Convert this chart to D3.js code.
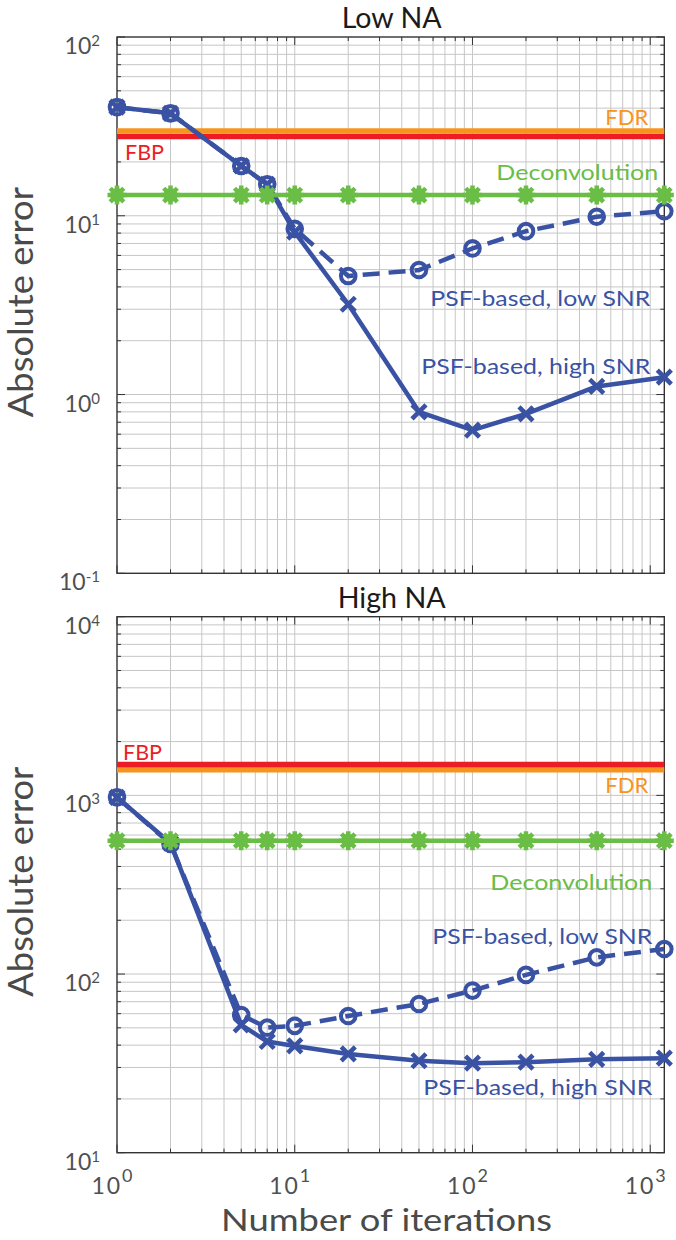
<!DOCTYPE html>
<html>
<head>
<meta charset="utf-8">
<script src="https://cdn.jsdelivr.net/npm/d3@7"></script>
<style>
  body { margin: 0; background: #fff; }
  svg { display: block; }
  text { font-family: Lato, "Open Sans", sans-serif; }
</style>
</head>
<body>
<svg id="chart" width="676" height="1240"></svg>
<script>
// Iteration counts shared by every series
const iterations = [1, 2, 5, 7, 10, 20, 50, 100, 200, 500, 1200];

// Low NA panel
const lowNA_psfLowSNR  = [40.5, 37.4, 19.0, 15.0, 8.45, 4.6, 4.97, 6.57, 8.2, 9.87, 10.6];
const lowNA_psfHighSNR = [40.5, 37.4, 19.0, 15.0, 8.1, 3.2, 0.80, 0.632, 0.78, 1.11, 1.25];
const lowNA_deconv     = [13.06, 13.06, 13.06, 13.06, 13.06, 13.06, 13.06, 13.06, 13.06, 13.06, 13.06];
const lowNA_FBP = 27.8;
const lowNA_FDR = 29.8;

// High NA panel
const highNA_psfLowSNR  = [975, 535, 59, 50.1, 51.3, 58.2, 68, 80.8, 98.9, 124, 138];
const highNA_psfHighSNR = [975, 540, 51.9, 41.9, 39.6, 35.7, 32.7, 31.7, 32.1, 33.3, 33.8];
const highNA_deconv     = [558, 558, 558, 558, 558, 558, 558, 558, 558, 558, 558];
const highNA_FBP = 1490;
const highNA_FDR = 1390;

// Axis ranges and labels
const xDomain = [1, 1200];
const lowNA_yDomain = [0.1, 100];
const highNA_yDomain = [10, 10000];
const titles = ["Low NA", "High NA"];
const xAxisLabel = "Number of iterations";
const yAxisLabel = "Absolute error";
const seriesNames = ["FBP", "FDR", "Deconvolution", "PSF-based, low SNR", "PSF-based, high SNR"];

const C = {
  blue: "#3a52a3",
  green: "#6abd45",
  red: "#ed1c24",
  orange: "#f7941d",
  grid: "#c6c6c6",
  axis: "#333333",
  tickText: "#505050",
  label: "#4a4a4a"
};

// rendered widths of the longer labels (the typeface is set a little wide)
const textWidth = {
  "FBP": 39, "FDR": 43, "Deconvolution": 162,
  "PSF-based, low SNR": 220, "PSF-based, high SNR": 229,
  "Low NA": 100, "High NA": 108,
  "Number of iterations": 331, "Absolute error": 230
};

const svg = d3.select("#chart");
const left = 117, right = 664.3;

const panels = [
  {
    top: 37, bottom: 573.3, yDomain: lowNA_yDomain, title: titles[0],
    low: lowNA_psfLowSNR, high: lowNA_psfHighSNR, deconv: lowNA_deconv,
    fbp: lowNA_FBP, fdr: lowNA_FDR, fdrOnTop: true,
    lab: {
      fbp: { dx: 8, dy: 24 },
      fdr: { dx: -16, dy: -6 },
      dec: { dx: -6, dy: -15 },
      lowY: 306, highY: 374, lowDx: -14, highDx: -14
    }
  },
  {
    top: 616.7, bottom: 1152.7, yDomain: highNA_yDomain, title: titles[1],
    low: highNA_psfLowSNR, high: highNA_psfHighSNR, deconv: highNA_deconv,
    fbp: highNA_FBP, fdr: highNA_FDR, fdrOnTop: false,
    lab: {
      fbp: { dx: 6, dy: -4.5 },
      fdr: { dx: -16, dy: 23 },
      dec: { dx: -12, dy: 49 },
      lowY: 944, highY: 1095, lowDx: -12, highDx: -12
    }
  }
];

function logTicks(domain) {
  const out = [];
  const k0 = Math.floor(Math.log10(domain[0]));
  const k1 = Math.ceil(Math.log10(domain[1]));
  for (let k = k0; k <= k1; k++) {
    for (let m = 1; m <= 9; m++) {
      const v = m * Math.pow(10, k);
      if (v >= domain[0] * 0.9999 && v <= domain[1] * 1.0001) out.push({ v, major: m === 1 });
    }
  }
  return out;
}

function fitText(sel, str) {
  if (textWidth[str]) sel.attr("textLength", textWidth[str]).attr("lengthAdjust", "spacingAndGlyphs");
  return sel;
}

const xTicks = logTicks(xDomain);

panels.forEach((p, pi) => {
  const x = d3.scaleLog().domain(xDomain).range([left, right]);
  const y = d3.scaleLog().domain(p.yDomain).range([p.bottom, p.top]);
  const yTicks = logTicks(p.yDomain);
  const g = svg.append("g");

  // grid
  g.append("g").selectAll("line").data(xTicks.filter(t => x(t.v) > left + 0.5 && x(t.v) < right - 0.5))
    .join("line")
    .attr("x1", d => x(d.v)).attr("x2", d => x(d.v))
    .attr("y1", p.top).attr("y2", p.bottom)
    .attr("stroke", C.grid).attr("stroke-width", 1);
  g.append("g").selectAll("line").data(yTicks.filter(t => y(t.v) > p.top + 0.5 && y(t.v) < p.bottom - 0.5))
    .join("line")
    .attr("y1", d => y(d.v)).attr("y2", d => y(d.v))
    .attr("x1", left).attr("x2", right)
    .attr("stroke", C.grid).attr("stroke-width", 1);

  // inward tick marks on all four sides
  const tk = g.append("g").attr("stroke", C.axis).attr("stroke-width", 1);
  yTicks.forEach(t => {
    const L = t.major ? 8 : 4;
    tk.append("line").attr("x1", left).attr("x2", left + L).attr("y1", y(t.v)).attr("y2", y(t.v));
    tk.append("line").attr("x1", right).attr("x2", right - L).attr("y1", y(t.v)).attr("y2", y(t.v));
  });
  xTicks.forEach(t => {
    const L = t.major ? 8 : 4;
    tk.append("line").attr("y1", p.bottom).attr("y2", p.bottom - L).attr("x1", x(t.v)).attr("x2", x(t.v));
    tk.append("line").attr("y1", p.top).attr("y2", p.top + L).attr("x1", x(t.v)).attr("x2", x(t.v));
  });

  // frame
  g.append("rect").attr("x", left).attr("y", p.top)
    .attr("width", right - left).attr("height", p.bottom - p.top)
    .attr("fill", "none").attr("stroke", C.axis).attr("stroke-width", 1.4);

  // y tick labels
  yTicks.filter(t => t.major).forEach(t => {
    const e = Math.round(Math.log10(t.v));
    const txt = g.append("text")
      .attr("x", 100).attr("y", y(t.v) + 17)
      .attr("text-anchor", "end")
      .attr("font-size", 23).attr("fill", C.tickText)
      .text("10");
    txt.append("tspan").attr("dy", -8).attr("font-size", 15).text(e);
  });

  // reference lines FBP / FDR
  const hline = (val, color) => g.append("line")
    .attr("x1", x(xDomain[0])).attr("x2", x(xDomain[1]))
    .attr("y1", y(val)).attr("y2", y(val))
    .attr("stroke", color).attr("stroke-width", 5.5);
  if (p.fdrOnTop) { hline(p.fbp, C.red); hline(p.fdr, C.orange); }
  else { hline(p.fdr, C.orange); hline(p.fbp, C.red); }

  const line = d3.line().x((d, i) => x(iterations[i])).y(d => y(d));

  // PSF-based, high SNR (solid, crosses)
  g.append("path").datum(p.high).attr("d", line)
    .attr("fill", "none").attr("stroke", C.blue).attr("stroke-width", 4.5)
    .attr("stroke-linejoin", "round");
  // PSF-based, low SNR (dashed, circles)
  g.append("path").datum(p.low).attr("d", line)
    .attr("fill", "none").attr("stroke", C.blue).attr("stroke-width", 4.5)
    .attr("stroke-dasharray", "17,9");

  g.append("g").selectAll("path").data(p.high).join("path")
    .attr("transform", (d, i) => `translate(${x(iterations[i])},${y(d)})`)
    .attr("d", "M-7,-7L7,7M-7,7L7,-7")
    .attr("stroke", C.blue).attr("stroke-width", 4.5).attr("fill", "none");
  g.append("g").selectAll("circle").data(p.low).join("circle")
    .attr("cx", (d, i) => x(iterations[i])).attr("cy", d => y(d))
    .attr("r", 7.3).attr("fill", "none")
    .attr("stroke", C.blue).attr("stroke-width", 4);

  // Deconvolution (solid, asterisks)
  g.append("path").datum(p.deconv).attr("d", line)
    .attr("fill", "none").attr("stroke", C.green).attr("stroke-width", 4.5);
  const star = g.append("g").selectAll("g").data(p.deconv).join("g")
    .attr("transform", (d, i) => `translate(${x(iterations[i])},${y(d)})`);
  star.append("circle").attr("r", 7).attr("fill", C.green);
  star.append("path")
    .attr("d", "M-9.5,0H9.5M0,-9.5V9.5M-6.8,-6.8L6.8,6.8M-6.8,6.8L6.8,-6.8")
    .attr("stroke", C.green).attr("stroke-width", 4.5);

  // series annotations
  const ann = (txt, color, xx, yy, anchor) => fitText(g.append("text")
    .attr("x", xx).attr("y", yy).attr("text-anchor", anchor)
    .attr("font-size", 22).attr("fill", color).text(txt), txt);
  ann(seriesNames[0], C.red, left + p.lab.fbp.dx, y(p.fbp) + p.lab.fbp.dy, "start");
  ann(seriesNames[1], C.orange, right + p.lab.fdr.dx, y(p.fdr) + p.lab.fdr.dy, "end");
  ann(seriesNames[2], C.green, right + p.lab.dec.dx, y(p.deconv[0]) + p.lab.dec.dy, "end");
  ann(seriesNames[3], C.blue, right + p.lab.lowDx, p.lab.lowY, "end");
  ann(seriesNames[4], C.blue, right + p.lab.highDx, p.lab.highY, "end");

  // title
  fitText(g.append("text").attr("x", (left + right) / 2 + 1).attr("y", p.top - 9)
    .attr("text-anchor", "middle").attr("font-size", 28).attr("fill", "#1a1a1a")
    .text(p.title), p.title);

  // y axis label
  const cy = (p.top + p.bottom) / 2 - 3;
  fitText(g.append("text").attr("transform", `translate(33,${cy}) rotate(-90)`)
    .attr("text-anchor", "middle").attr("font-size", 34).attr("fill", C.label)
    .text(yAxisLabel), yAxisLabel);

  // x tick labels and axis label under the lower panel
  if (pi === panels.length - 1) {
    xTicks.filter(t => t.major).forEach(t => {
      const e = Math.round(Math.log10(t.v));
      const txt = g.append("text")
        .attr("x", x(t.v) - 4).attr("y", p.bottom + 41)
        .attr("text-anchor", "middle")
        .attr("font-size", 23).attr("letter-spacing", 2).attr("fill", C.tickText)
        .text("10");
      txt.append("tspan").attr("dy", -12).attr("font-size", 18).text(e);
    });
    fitText(g.append("text").attr("x", 386.5).attr("y", p.bottom + 78.5)
      .attr("text-anchor", "middle").attr("font-size", 31).attr("fill", C.label)
      .text(xAxisLabel), xAxisLabel);
  }
});
</script>
</body>
</html>
